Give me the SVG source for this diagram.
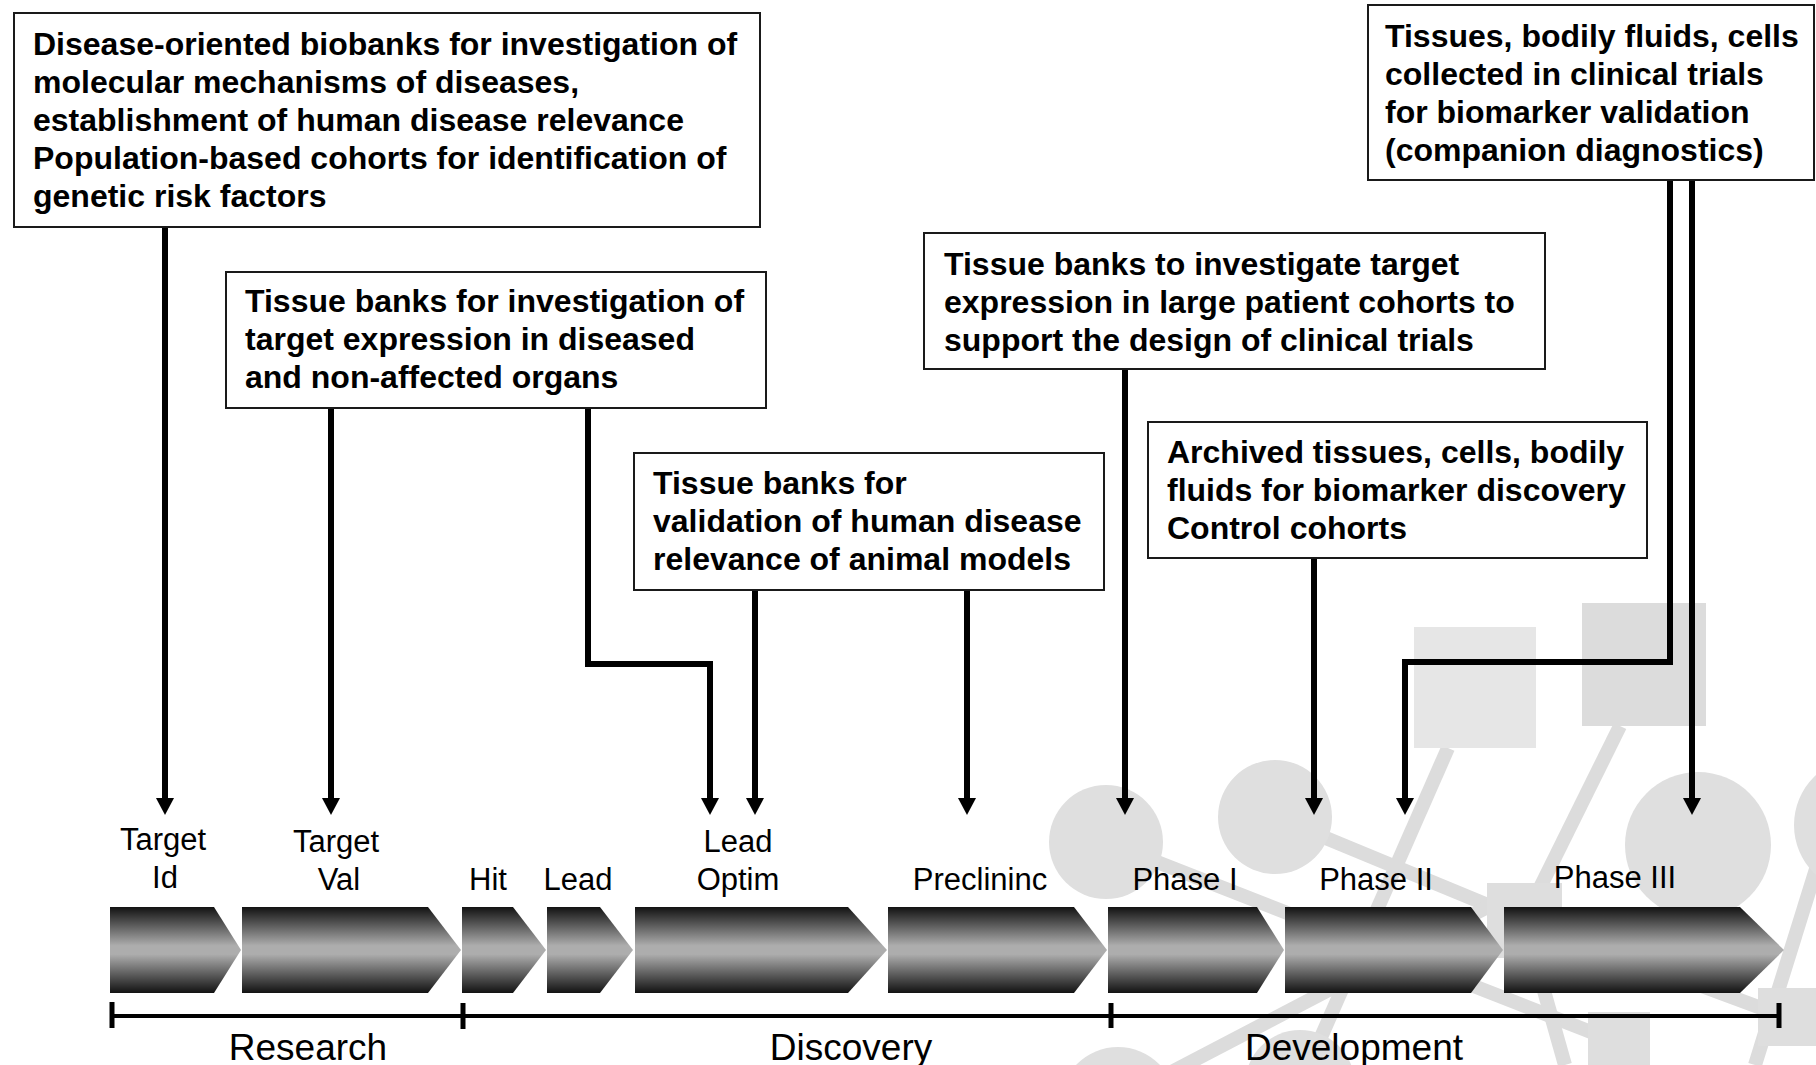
<svg xmlns="http://www.w3.org/2000/svg" width="1816" height="1065" viewBox="0 0 1816 1065">
  <defs>
    <linearGradient id="chevFill" x1="0" y1="0" x2="0" y2="1">
      <stop offset="0" stop-color="#121212"/>
      <stop offset="0.45" stop-color="#adadad"/>
      <stop offset="0.55" stop-color="#adadad"/>
      <stop offset="1" stop-color="#121212"/>
    </linearGradient>
    <marker id="arrowHead" markerUnits="userSpaceOnUse" markerWidth="18" markerHeight="18" viewBox="0 0 17 18" refX="7" refY="9" orient="auto">
      <path d="M0,0 L17,9 L0,18 z" fill="#000"/>
    </marker>
    <style>
      .box { fill: #fff; stroke: #1a1a1a; stroke-width: 2; }
      .bt { font-family: "Liberation Sans", Arial, sans-serif; font-weight: bold; font-size: 32px; fill: #000; }
      .stage { font-family: "Liberation Sans", Arial, sans-serif; font-size: 31px; fill: #000; text-anchor: middle; }
      .sec { font-family: "Liberation Sans", Arial, sans-serif; font-size: 37px; fill: #000; text-anchor: middle; }
      .conn { fill: none; stroke: #000; stroke-width: 6; }
      .chev { fill: url(#chevFill); }
      .tl { stroke: #000; stroke-width: 4; fill: none; }
      .tick { stroke: #000; stroke-width: 5; }
      .dc { fill: #dfdfdf; }
      .dl { stroke: #dcdcdc; stroke-width: 14; fill: none; }
    </style>
  </defs>

  <rect width="1816" height="1065" fill="#fff"/>

  <!-- faint molecular network backdrop -->
  <g id="backdrop">
    <line class="dl" x1="1448" y1="748" x2="1300" y2="1085"/>
    <line class="dl" x1="1620" y1="726" x2="1524" y2="920"/>
    <line class="dl" x1="1275" y1="817" x2="1524" y2="920"/>
    <line class="dl" x1="1106" y1="842" x2="1619" y2="1043"/>
    <line class="dl" x1="1524" y1="920" x2="1788" y2="1018"/>
    <line class="dl" x1="1118" y1="1100" x2="1520" y2="890"/>
    <line class="dl" x1="1850" y1="760" x2="1755" y2="1065"/>
    <line class="dl" x1="1524" y1="920" x2="1565" y2="1065"/>
    <rect x="1414" y="627" width="122" height="121" fill="#e6e6e6"/>
    <rect x="1582" y="603" width="124" height="123" fill="#dcdcdc"/>
    <rect x="1487" y="883" width="75" height="75" fill="#dedede"/>
    <rect x="1588" y="1012" width="62" height="62" fill="#dedede"/>
    <rect x="1758" y="988" width="60" height="58" fill="#dedede"/>
    <circle class="dc" cx="1106" cy="842" r="57"/>
    <circle class="dc" cx="1275" cy="817" r="57"/>
    <circle class="dc" cx="1698" cy="845" r="73"/>
    <circle class="dc" cx="1862" cy="825" r="68"/>
    <circle class="dc" cx="1118" cy="1105" r="58"/>
    <circle class="dc" cx="1300" cy="1085" r="55"/>
  </g>

  <!-- pipeline stages -->
  <g id="stage-target-id">
    <polygon class="chev" points="110,907 214,907 241,950 214,993 110,993"/>
    <text class="stage" x="163" y="850">Target</text>
    <text class="stage" x="165" y="888">Id</text>
  </g>
  <g id="stage-target-val">
    <polygon class="chev" points="242,907 428,907 461,950 428,993 242,993"/>
    <text class="stage" x="336" y="852">Target</text>
    <text class="stage" x="339" y="890">Val</text>
  </g>
  <g id="stage-hit">
    <polygon class="chev" points="462,907 513,907 546,950 513,993 462,993"/>
    <text class="stage" x="488" y="890">Hit</text>
  </g>
  <g id="stage-lead">
    <polygon class="chev" points="547,907 600,907 633,950 600,993 547,993"/>
    <text class="stage" x="578" y="890">Lead</text>
  </g>
  <g id="stage-lead-optim">
    <polygon class="chev" points="635,907 848,907 887,950 848,993 635,993"/>
    <text class="stage" x="738" y="852">Lead</text>
    <text class="stage" x="738" y="890">Optim</text>
  </g>
  <g id="stage-preclin">
    <polygon class="chev" points="888,907 1074,907 1107,950 1074,993 888,993"/>
    <text class="stage" x="980" y="890">Preclininc</text>
  </g>
  <g id="stage-phase1">
    <polygon class="chev" points="1108,907 1257,907 1284,950 1257,993 1108,993"/>
    <text class="stage" x="1185" y="890">Phase I</text>
  </g>
  <g id="stage-phase2">
    <polygon class="chev" points="1285,907 1471,907 1503,950 1471,993 1285,993"/>
    <text class="stage" x="1376" y="890">Phase II</text>
  </g>
  <g id="stage-phase3">
    <polygon class="chev" points="1504,907 1740,907 1784,950 1740,993 1504,993"/>
    <text class="stage" x="1615" y="888">Phase III</text>
  </g>

  <!-- timeline with sections -->
  <g id="timeline">
    <line class="tl" x1="110" y1="1016" x2="1780" y2="1016"/>
    <line class="tick" x1="112" y1="1002" x2="112" y2="1028"/>
    <line class="tick" x1="463" y1="1003" x2="463" y2="1029"/>
    <line class="tick" x1="1111" y1="1003" x2="1111" y2="1028"/>
    <line class="tick" x1="1779" y1="1003" x2="1779" y2="1028"/>
    <text class="sec" x="308" y="1060">Research</text>
    <text class="sec" x="851" y="1060">Discovery</text>
    <text class="sec" x="1354" y="1060">Development</text>
  </g>

  <!-- connectors from sample collections to stages -->
  <g id="connectors">
    <path class="conn" d="M165,227 V805" marker-end="url(#arrowHead)"/>
    <path class="conn" d="M331,408 V805" marker-end="url(#arrowHead)"/>
    <path class="conn" d="M588,408 V664 H710 V805" marker-end="url(#arrowHead)"/>
    <path class="conn" d="M755,590 V805" marker-end="url(#arrowHead)"/>
    <path class="conn" d="M967,590 V805" marker-end="url(#arrowHead)"/>
    <path class="conn" d="M1125,369 V805" marker-end="url(#arrowHead)"/>
    <path class="conn" d="M1314,558 V805" marker-end="url(#arrowHead)"/>
    <path class="conn" d="M1670,180 V662 H1405 V805" marker-end="url(#arrowHead)"/>
    <path class="conn" d="M1692,180 V805" marker-end="url(#arrowHead)"/>
  </g>

  <!-- sample collection boxes -->
  <g id="box-disease-biobanks">
    <rect class="box" x="14" y="13" width="746" height="214"/>
    <text class="bt" x="33" y="55">Disease-oriented biobanks for investigation of</text>
    <text class="bt" x="33" y="93">molecular mechanisms of diseases,</text>
    <text class="bt" x="33" y="131">establishment of human disease relevance</text>
    <text class="bt" x="33" y="169">Population-based cohorts for identification of</text>
    <text class="bt" x="33" y="207">genetic risk factors</text>
  </g>
  <g id="box-target-expression">
    <rect class="box" x="226" y="272" width="540" height="136"/>
    <text class="bt" x="245" y="312">Tissue banks for investigation of</text>
    <text class="bt" x="245" y="350">target expression in diseased</text>
    <text class="bt" x="245" y="388">and non-affected organs</text>
  </g>
  <g id="box-animal-models">
    <rect class="box" x="634" y="453" width="470" height="137"/>
    <text class="bt" x="653" y="494">Tissue banks for</text>
    <text class="bt" x="653" y="532">validation of human disease</text>
    <text class="bt" x="653" y="570">relevance of animal models</text>
  </g>
  <g id="box-trial-design">
    <rect class="box" x="924" y="233" width="621" height="136"/>
    <text class="bt" x="944" y="275">Tissue banks to investigate target</text>
    <text class="bt" x="944" y="313">expression in large patient cohorts to</text>
    <text class="bt" x="944" y="351">support the design of clinical trials</text>
  </g>
  <g id="box-biomarker-discovery">
    <rect class="box" x="1148" y="422" width="499" height="136"/>
    <text class="bt" x="1167" y="463">Archived tissues, cells, bodily</text>
    <text class="bt" x="1167" y="501">fluids for biomarker discovery</text>
    <text class="bt" x="1167" y="539">Control cohorts</text>
  </g>
  <g id="box-biomarker-validation">
    <rect class="box" x="1368" y="5" width="446" height="175"/>
    <text class="bt" x="1385" y="47">Tissues, bodily fluids, cells</text>
    <text class="bt" x="1385" y="85">collected in clinical trials</text>
    <text class="bt" x="1385" y="123">for biomarker validation</text>
    <text class="bt" x="1385" y="161">(companion diagnostics)</text>
  </g>
</svg>
